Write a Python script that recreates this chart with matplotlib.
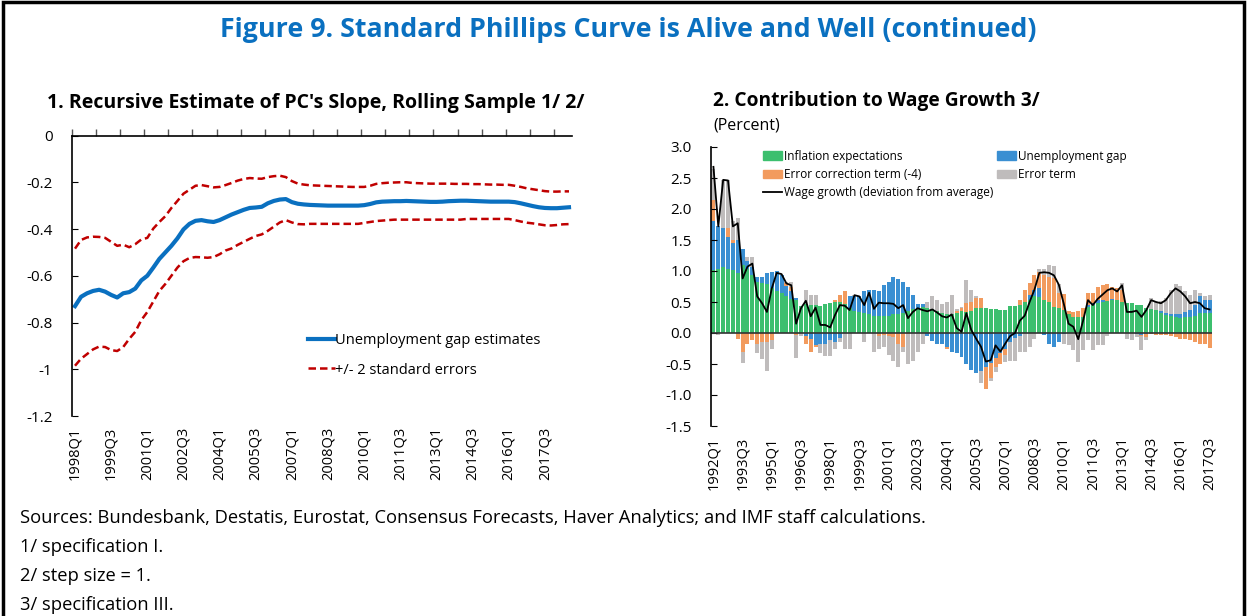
import numpy as np
import matplotlib
matplotlib.use("Agg")
import matplotlib.pyplot as plt
from matplotlib.patches import Rectangle
from matplotlib.lines import Line2D
from matplotlib.patches import Patch

plt.rcParams["font.family"] = ["Open Sans", "DejaVu Sans"]
plt.rcParams["axes.unicode_minus"] = False


def quarters(start_year, n):
    return [f"{start_year + k // 4}Q{k % 4 + 1}" for k in range(n)]


# ---- panel 1: recursive estimate of PC slope, 1998Q1 - 2018Q3
slope_est = [
    -0.73, -0.69, -0.675, -0.665, -0.66, -0.668, -0.682, -0.693, -0.675, -0.67,
    -0.655, -0.62, -0.6, -0.565, -0.528, -0.5, -0.472, -0.44, -0.402, -0.378,
    -0.365, -0.362, -0.367, -0.37, -0.362, -0.35, -0.338, -0.328, -0.318, -0.31,
    -0.308, -0.305, -0.29, -0.28, -0.274, -0.272, -0.285, -0.292, -0.295, -0.297,
    -0.298, -0.299, -0.3, -0.3, -0.3, -0.3, -0.3, -0.3, -0.298, -0.293,
    -0.286, -0.283, -0.282, -0.281, -0.281, -0.28, -0.281, -0.282, -0.283, -0.284,
    -0.284, -0.283, -0.281, -0.28, -0.279, -0.279, -0.28, -0.281, -0.282, -0.283,
    -0.283, -0.283, -0.283, -0.285, -0.29, -0.296, -0.302, -0.307, -0.31, -0.311,
    -0.311, -0.309, -0.307,
]
slope_upper = [
    -0.484, -0.447, -0.436, -0.433, -0.434, -0.438, -0.455, -0.472, -0.467, -0.478,
    -0.465, -0.445, -0.438, -0.398, -0.37, -0.345, -0.31, -0.28, -0.249, -0.232,
    -0.215, -0.212, -0.217, -0.222, -0.22, -0.212, -0.203, -0.193, -0.186, -0.182,
    -0.184, -0.185, -0.178, -0.174, -0.172, -0.178, -0.195, -0.206, -0.21, -0.213,
    -0.214, -0.215, -0.216, -0.217, -0.218, -0.219, -0.22, -0.22, -0.22, -0.215,
    -0.207, -0.204, -0.202, -0.201, -0.2, -0.2, -0.203, -0.204, -0.205, -0.206,
    -0.206, -0.206, -0.206, -0.207, -0.207, -0.207, -0.208, -0.208, -0.209, -0.21,
    -0.21, -0.211, -0.211, -0.215, -0.22, -0.226, -0.23, -0.234, -0.238, -0.24,
    -0.24, -0.239, -0.239,
]
slope_lower = [
    -0.985, -0.955, -0.935, -0.915, -0.903, -0.905, -0.918, -0.922, -0.905, -0.87,
    -0.84, -0.79, -0.755, -0.71, -0.665, -0.635, -0.6, -0.565, -0.538, -0.524,
    -0.52, -0.521, -0.523, -0.52, -0.508, -0.492, -0.483, -0.468, -0.455, -0.442,
    -0.43, -0.423, -0.408, -0.39, -0.372, -0.362, -0.372, -0.379, -0.38, -0.378,
    -0.378, -0.378, -0.378, -0.378, -0.378, -0.378, -0.378, -0.378, -0.374, -0.37,
    -0.366, -0.364, -0.362, -0.36, -0.36, -0.36, -0.36, -0.36, -0.36, -0.36,
    -0.36, -0.36, -0.36, -0.36, -0.36, -0.357, -0.357, -0.357, -0.357, -0.357,
    -0.357, -0.357, -0.357, -0.362, -0.368, -0.373, -0.376, -0.38, -0.384, -0.385,
    -0.383, -0.38, -0.379,
]
left_labels = quarters(1998, len(slope_est))

# ---- panel 2: contributions to wage growth, 1992Q1 - 2017Q3
infl_exp = [
    1.02, 1.04, 1.06, 1.04, 1.02, 0.96, 1.1, 1.04, 0.94, 0.83,
    0.8, 0.79, 0.72, 0.67, 0.64, 0.59, 0.55, 0.53, 0.44, 0.47,
    0.45, 0.45, 0.44, 0.47, 0.49, 0.5, 0.5, 0.47, 0.4, 0.36,
    0.34, 0.32, 0.3, 0.27, 0.27, 0.28, 0.28, 0.3, 0.3, 0.32,
    0.35, 0.38, 0.4, 0.42, 0.4, 0.38, 0.35, 0.33, 0.3, 0.3,
    0.32, 0.36, 0.34, 0.36, 0.4, 0.41, 0.4, 0.39, 0.39, 0.37,
    0.37, 0.44, 0.44, 0.45, 0.5, 0.53, 0.59, 0.58, 0.53, 0.5,
    0.42, 0.4, 0.37, 0.3, 0.26, 0.26, 0.26, 0.42, 0.45, 0.49,
    0.5, 0.52, 0.53, 0.53, 0.5, 0.49, 0.48, 0.45, 0.45, 0.4,
    0.38, 0.37, 0.32, 0.29, 0.27, 0.26, 0.25, 0.26, 0.26, 0.28,
    0.32, 0.33, 0.33,
]
unemp_gap = [
    0.78, 0.68, 0.63, 0.51, 0.43, 0.54, 0.25, 0.12, 0.12, 0.08,
    0.11, 0.18, 0.27, 0.33, 0.3, 0.17, 0.12, 0.03, 0.0, -0.05,
    -0.1, -0.2, -0.17, -0.17, -0.12, -0.15, -0.08, 0.0, 0.2, 0.23,
    0.26, 0.35, 0.39, 0.42, 0.41, 0.49, 0.55, 0.6, 0.57, 0.51,
    0.4, 0.24, 0.07, 0.05, -0.05, -0.13, -0.17, -0.17, -0.22, -0.3,
    -0.33, -0.38, -0.5, -0.6, -0.65, -0.62, -0.55, -0.48, -0.4, -0.32,
    -0.25, -0.15, -0.08, -0.05, 0.0, 0.08, 0.11, 0.14, -0.03, -0.18,
    -0.22, -0.15, -0.02, 0.0, 0.0, 0.0, 0.0, 0.03, 0.03, 0.04,
    0.03, 0.0, 0.02, 0.0, 0.0, 0.0, 0.0, -0.02, -0.03, -0.02,
    0.0, 0.0, 0.03, 0.03, 0.04, 0.05, 0.05, 0.08, 0.11, 0.17,
    0.27, 0.2, 0.21,
]
error_corr = [
    0.35, 0.0, 0.0, 0.14, 0.05, -0.1, -0.3, -0.17, -0.11, -0.17,
    -0.15, -0.15, -0.12, 0.0, 0.0, 0.04, 0.08, -0.03, 0.0, -0.12,
    -0.2, -0.03, 0.0, 0.0, 0.0, 0.04, 0.11, 0.21, 0.0, 0.0,
    0.0, 0.0, 0.0, 0.0, -0.05, -0.03, -0.05, -0.07, -0.18, -0.22,
    -0.02, 0.0, 0.0, 0.0, 0.0, 0.0, 0.0, 0.0, -0.04, 0.0,
    0.04, 0.04, 0.14, 0.14, 0.16, 0.15, -0.35, -0.25, -0.15, -0.18,
    -0.1, 0.0, 0.0, 0.09, 0.19, 0.19, 0.24, 0.27, 0.4, 0.41,
    0.46, 0.24, 0.26, 0.05, 0.08, 0.1, 0.14, 0.19, 0.17, 0.22,
    0.24, 0.27, 0.2, 0.19, 0.19, 0.0, 0.0, 0.0, -0.02, -0.04,
    -0.02, -0.03, -0.03, -0.04, -0.05, -0.07, -0.1, -0.1, -0.12, -0.15,
    -0.17, -0.18, -0.24,
]
error_term = [
    0.5, -0.03, 0.78, 0.78, 0.3, 0.35, -0.19, 0.07, 0.17, -0.15,
    -0.27, -0.47, -0.13, 0.0, 0.0, 0.03, 0.08, -0.37, -0.05, 0.22,
    0.16, 0.16, -0.15, -0.2, -0.25, -0.1, -0.07, -0.25, -0.25, 0.03,
    0.0, -0.15, 0.0, -0.3, -0.2, -0.2, -0.3, -0.38, -0.37, -0.08,
    -0.48, -0.45, -0.3, -0.17, 0.1, 0.21, 0.18, 0.14, 0.2, 0.31,
    0.02, 0.02, 0.37, 0.2, 0.04, -0.18, 0.0, -0.05, -0.08, 0.0,
    -0.12, -0.3, -0.37, -0.25, -0.3, -0.22, -0.1, 0.05, 0.1, 0.19,
    0.2, 0.15, -0.15, -0.2, -0.27, -0.47, -0.27, -0.12, -0.27, -0.2,
    -0.2, -0.05, 0.0, 0.0, 0.11, -0.1, -0.12, -0.05, -0.22, -0.05,
    0.18, 0.13, 0.16, 0.24, 0.38, 0.48, 0.46, 0.33, 0.24, 0.25,
    0.06, 0.06, 0.07,
]
wage_growth = [
    2.68, 1.72, 2.47, 2.46, 1.72, 1.77, 0.88, 1.07, 1.12, 0.59,
    0.48, 0.34, 0.72, 0.97, 0.95, 0.8, 0.77, 0.15, 0.4, 0.52,
    0.27, 0.41, 0.13, 0.13, 0.09, 0.29, 0.45, 0.44, 0.37, 0.61,
    0.59, 0.45, 0.65, 0.39, 0.49, 0.48, 0.48, 0.47, 0.4, 0.45,
    0.24, 0.34, 0.4, 0.37, 0.35, 0.38, 0.33, 0.27, 0.25, 0.3,
    0.08, 0.02, 0.32, 0.05, -0.09, -0.22, -0.46, -0.44, -0.2, -0.3,
    -0.17, -0.05, 0.0, 0.2, 0.28, 0.5, 0.7, 0.97, 0.98, 0.97,
    0.93, 0.78, 0.48, 0.15, 0.1, -0.1, 0.2, 0.53, 0.45, 0.55,
    0.62, 0.69, 0.72, 0.67, 0.77, 0.34, 0.34, 0.36, 0.26, 0.37,
    0.53, 0.5, 0.48, 0.53, 0.64, 0.72, 0.67, 0.59, 0.48, 0.5,
    0.48, 0.4, 0.38,
]
right_labels = quarters(1992, len(wage_growth))

series_names = ["Inflation expectations", "Unemployment gap",
                "Error correction term (-4)", "Error term"]
series_colors = ["#3cbf6e", "#3a8fd2", "#f29b5e", "#bfbcbc"]

W, H = 1247, 616
fig = plt.figure(figsize=(W / 100, H / 100), dpi=100)

# outer frame
fig.patches.append(Rectangle((3 / W, -0.05), 1241 / W, 1.05 - 2 / H, transform=fig.transFigure,
                             fill=False, edgecolor="black", lw=2.5))

fig.text(628 / W, 1 - 30 / H, "Figure 9. Standard Phillips Curve is Alive and Well (continued)",
         ha="center", va="center", fontsize=19.3, fontweight="bold", color="#0a70c0")
fig.text(47 / W, 1 - 103 / H, "1. Recursive Estimate of PC's Slope, Rolling Sample 1/ 2/",
         ha="left", va="center", fontsize=14, fontweight="bold")
fig.text(713 / W, 1 - 101 / H, "2. Contribution to Wage Growth 3/",
         ha="left", va="center", fontsize=13.8, fontweight="bold")
fig.text(713 / W, 1 - 126 / H, "(Percent)", ha="left", va="center", fontsize=11.5)

# ---- left panel
ax1 = fig.add_axes([72 / W, 1 - 416 / H, 500 / W, 280.5 / H])
x1 = np.arange(len(slope_est))
ax1.plot(x1, slope_est, color="#0a70c0", lw=3, label="Unemployment gap estimates")
ax1.plot(x1, slope_upper, color="#c00000", lw=1.8, ls=(0, (3, 1.6)), label="+/- 2 standard errors")
ax1.plot(x1, slope_lower, color="#c00000", lw=1.8, ls=(0, (3, 1.6)))
ax1.set_xlim(-0.5, len(slope_est) - 0.5)
ax1.set_ylim(-1.2, 0)
ax1.set_yticks([0, -0.2, -0.4, -0.6, -0.8, -1, -1.2])
ax1.set_yticklabels(["0", "-0.2", "-0.4", "-0.6", "-0.8", "-1", "-1.2"])
for s in ["right", "bottom"]:
    ax1.spines[s].set_visible(False)
ax1.spines["left"].set_linewidth(1.2)
ax1.spines["top"].set_linewidth(1.2)
ax1.set_xticks(x1[::6])
ax1.set_xticklabels(left_labels[::6], rotation=90, fontsize=10.5)
ax1.set_xticks(np.arange(-0.5, len(slope_est), 4), minor=True)
ax1.tick_params(axis="x", which="major", length=0, pad=8, bottom=True, top=False)
ax1.tick_params(axis="x", which="minor", top=True, bottom=False, direction="out", length=5, width=1, color="#555555")
ax1.tick_params(axis="y", direction="in", length=4, labelsize=11, pad=14)
ax1.legend(loc="upper left", bbox_to_anchor=(0.458, 0.322), frameon=False, fontsize=10.5,
           handlelength=1.8, handletextpad=0.0, labelspacing=1.0, borderpad=0)

# ---- right panel
ax2 = fig.add_axes([711 / W, 1 - 426 / H, 501 / W, 279 / H])
x2 = np.arange(len(wage_growth))
pos_base = np.zeros(len(x2))
neg_base = np.zeros(len(x2))
for vals, name, color in zip([infl_exp, unemp_gap, error_corr, error_term], series_names, series_colors):
    v = np.array(vals)
    base = np.where(v >= 0, pos_base, neg_base)
    ax2.bar(x2, v, bottom=base, width=0.82, color=color, edgecolor="none", label=name)
    pos_base = pos_base + np.clip(v, 0, None)
    neg_base = neg_base + np.clip(v, None, 0)
ax2.axhline(0, color="#333333", lw=1.2)
ax2.plot(x2, wage_growth, color="black", lw=1.3, label="Wage growth (deviation from average)")
ax2.set_xlim(-0.5, len(x2) - 0.5)
ax2.set_ylim(-1.5, 3.0)
ax2.set_yticks(np.arange(-1.5, 3.01, 0.5))
ax2.set_yticklabels([f"{t:.1f}" for t in np.arange(-1.5, 3.01, 0.5)])
for s in ["right", "top", "bottom"]:
    ax2.spines[s].set_visible(False)
ax2.spines["left"].set_linewidth(1.2)
ax2.set_xticks(x2[::6])
ax2.set_xticklabels(right_labels[::6], rotation=90, fontsize=10.5)
ax2.tick_params(axis="x", length=0, pad=8)
ax2.tick_params(axis="y", direction="in", length=4, labelsize=11, pad=14)

handles = [Patch(color=series_colors[0]), Patch(color=series_colors[2]),
           Line2D([], [], color="black", lw=1.3),
           Patch(color=series_colors[1]), Patch(color=series_colors[3])]
labels = [series_names[0], series_names[2], "Wage growth (deviation from average)",
          series_names[1], series_names[3]]
ax2.legend(handles, labels, ncol=2, loc="upper left", bbox_to_anchor=(0.093, 1.012), frameon=False,
           fontsize=8.5, handlelength=1.6, handleheight=0.7, handletextpad=0.15,
           labelspacing=0.45, columnspacing=0.3, borderpad=0)

# ---- notes
notes = [
    "Sources: Bundesbank, Destatis, Eurostat, Consensus Forecasts, Haver Analytics; and IMF staff calculations.",
    "1/ specification I.",
    "2/ step size = 1.",
    "3/ specification III.",
]
for k, line in enumerate(notes):
    fig.text(20 / W, 1 - (518 + 29 * k) / H, line, ha="left", va="center", fontsize=13.2)

fig.savefig("out.png", dpi=100)
